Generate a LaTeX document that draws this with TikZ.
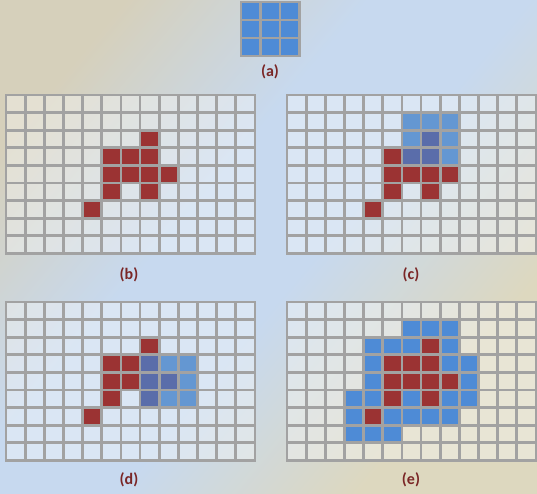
\documentclass[tikz,border=0pt]{standalone}
\usepackage{fontspec}
\setmainfont{Carlito}
\definecolor{bgbeige}{HTML}{D6D0BB}
\definecolor{bgbeigeb}{HTML}{DDD8BF}
\definecolor{bgblue}{HTML}{C7D9EF}
\definecolor{gridgray}{HTML}{A2A2A2}
\definecolor{cellred}{HTML}{9B3333}
\definecolor{cellblue}{HTML}{4E8BD6}
\definecolor{lightblue}{HTML}{6497D2}
\definecolor{overblue}{HTML}{5A6DAA}
\definecolor{labred}{HTML}{7A2626}
\pgfdeclarehorizontalshading{bgshade}{100bp}{color(0bp)=(bgbeige); color(24bp)=(bgbeige); color(42bp)=(bgblue); color(54bp)=(bgblue); color(72bp)=(bgbeigeb); color(100bp)=(bgbeigeb)}
\tikzset{
  cellbg/.style={fill=white, fill opacity=0.35},
  gridline/.style={draw=gridgray, line width=2.7pt, line cap=rect},
  redcell/.style={fill=cellred},
  bluecell/.style={fill=cellblue},
  lbluecell/.style={fill=lightblue},
  obluecell/.style={fill=overblue},
  lab/.style={font=\bfseries\fontsize{16}{16}\selectfont, text=labred, inner sep=0pt}
}
\newcommand\gridbg[4]{%
  \fill[cellbg] (#1,#2) rectangle ++({#3*\cw},{#4*\ch});}
\newcommand\gridlns[4]{%
  \foreach \i in {0,...,#3} \draw[gridline] ({#1+\i*\cw},#2) -- ++(0,{#4*\ch});
  \foreach \j in {0,...,#4} \draw[gridline] (#1,{#2+\j*\ch}) -- ++({#3*\cw},0);}
\newcommand\cellset[4]{%
  \foreach \c/\r in {#4} \fill[#3] ({#1+\c*\cw},{#2+\r*\ch}) rectangle ++(\cw,\ch);}
\begin{document}
\begin{tikzpicture}[x=1pt,y=-1pt]
\useasboundingbox (0,0) rectangle (537,493);
\shade[shading=bgshade, shading angle=-40] (0,0) rectangle (537,493);
% (a) structuring element
\def\cw{19.5}\def\ch{18}
\gridbg{241}{2}{3}{3}
\cellset{241}{2}{bluecell}{0/0,1/0,2/0,0/1,1/1,2/1,0/2,1/2,2/2}
\gridlns{241}{2}{3}{3}
\node[lab] (la) at (270,72) {(a)};
\def\cw{19.15}\def\ch{17.6}
% (b)
\gridbg{6}{95}{13}{9}
\cellset{6}{95}{redcell}{7/2,5/3,6/3,7/3,5/4,6/4,7/4,8/4,5/5,7/5,4/6}
\gridlns{6}{95}{13}{9}
\node[lab] (lb) at (129,275) {(b)};
% (c)
\gridbg{287}{95}{13}{9}
\cellset{287}{95}{redcell}{5/3,5/4,6/4,7/4,8/4,5/5,7/5,4/6}
\cellset{287}{95}{lbluecell}{6/1,7/1,8/1,6/2,8/2,8/3}
\cellset{287}{95}{obluecell}{7/2,6/3,7/3}
\gridlns{287}{95}{13}{9}
\node[lab] (lc) at (411,275) {(c)};
% (d)
\gridbg{6}{302}{13}{9}
\cellset{6}{302}{redcell}{7/2,5/3,6/3,5/4,6/4,5/5,4/6}
\cellset{6}{302}{lbluecell}{8/3,9/3,9/4,8/5,9/5}
\cellset{6}{302}{obluecell}{7/3,7/4,8/4,7/5}
\gridlns{6}{302}{13}{9}
\node[lab] (ld) at (129,480) {(d)};
% (e)
\gridbg{287}{302}{13}{9}
\cellset{287}{302}{redcell}{7/2,5/3,6/3,7/3,5/4,6/4,7/4,8/4,5/5,7/5,4/6}
\cellset{287}{302}{bluecell}{6/1,7/1,8/1,4/2,5/2,6/2,8/2,4/3,8/3,9/3,4/4,9/4,3/5,4/5,6/5,8/5,9/5,3/6,5/6,6/6,7/6,8/6,3/7,4/7,5/7}
\gridlns{287}{302}{13}{9}
\node[lab] (le) at (411,480) {(e)};
\end{tikzpicture}
\end{document}
